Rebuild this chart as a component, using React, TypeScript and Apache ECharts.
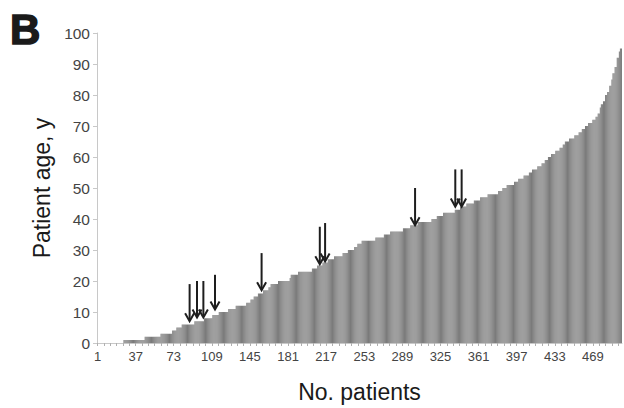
import React, { useEffect, useRef } from "react";
import * as echarts from "echarts";

// Sorted patient ages encoded as runs: runAges[k] repeated runCounts[k] times
const runAges = [
  0, 1, 2, 3, 4, 5, 6, 7, 8, 9, 10, 11, 12, 13, 14, 15, 16, 17, 18, 19, 20, 21, 22, 23,
  24, 25, 26, 27, 28, 29, 30, 31, 32, 33, 34, 35, 36, 37, 38, 39, 40, 41, 42, 43, 44, 45,
  46, 47, 48, 49, 50, 51, 52, 53, 54, 55, 56, 57, 58, 59, 60, 61, 62, 63, 64, 65, 66, 67,
  68, 69, 70, 71, 72, 73, 74, 76, 77, 78, 80, 81, 83, 85, 87, 89, 92, 94, 95,
];
const runCounts = [
  25, 20, 15, 11, 4, 5, 12, 9, 8, 6, 9, 7, 10, 4, 3, 4, 5, 5, 2, 7, 11, 1, 7, 13,
  5, 5, 5, 6, 8, 5, 6, 3, 4, 13, 8, 6, 12, 7, 7, 13, 5, 6, 11, 5, 6, 7,
  6, 7, 10, 4, 4, 7, 4, 5, 5, 3, 5, 4, 3, 3, 3, 4, 4, 3, 2, 4, 5, 4,
  3, 3, 3, 4, 3, 2, 2, 1, 2, 2, 2, 2, 2, 1, 2, 2, 2, 1, 2,
];

// Arrows: patient number (1-based) and age at the arrow tip / tail
const arrowPatients = [88, 95, 101, 112, 156, 211, 216, 301, 339, 345];
const arrowTips = [7, 8.2, 8.2, 10.8, 17, 25.4, 26.3, 38, 44, 44];
const arrowTails = [19, 20, 20, 22, 29, 37.5, 38.7, 50, 56, 56];

const FONT = "'Liberation Sans', Arial, sans-serif";

export default function App() {
  const ref = useRef<HTMLDivElement>(null);

  useEffect(() => {
    if (!ref.current) return;
    const chart = echarts.init(ref.current, undefined, { renderer: "svg" });

    const ages: number[] = [];
    runAges.forEach((a, k) => {
      for (let j = 0; j < runCounts[k]; j++) ages.push(a);
    });
    const categories = ages.map((_, i) => String(i + 1));
    const arrowData = arrowPatients.map((p, k) => [p - 1, arrowTips[k], arrowTails[k]]);

    chart.setOption({
      animation: false,
      backgroundColor: "#ffffff",
      title: {
        text: "B",
        left: 5,
        top: 3,
        textStyle: {
          fontFamily: FONT,
          fontSize: 42,
          fontWeight: 900,
          color: "#1a1a1a",
          textBorderColor: "#1a1a1a",
          textBorderWidth: 1.5,
        },
      },
      grid: { left: 97, right: 2, top: 33, bottom: 60, containLabel: false },
      xAxis: {
        type: "category",
        data: categories,
        name: "No. patients",
        nameLocation: "middle",
        nameGap: 37,
        nameTextStyle: { fontFamily: FONT, fontSize: 23, color: "#1a1a1a" },
        axisLine: { lineStyle: { color: "#c8c8c8", width: 1 } },
        axisTick: {
          show: true,
          interval: 5,
          alignWithLabel: true,
          length: 3,
          lineStyle: { color: "#b0b0b0" },
        },
        axisLabel: {
          interval: 35,
          fontFamily: FONT,
          fontSize: 13,
          color: "#444",
          margin: 7,
        },
        splitLine: { show: false },
      },
      yAxis: {
        type: "value",
        min: 0,
        max: 100,
        interval: 10,
        name: "Patient age, y",
        nameLocation: "middle",
        nameGap: 44,
        nameTextStyle: { fontFamily: FONT, fontSize: 23, color: "#1a1a1a" },
        axisLine: { show: true, lineStyle: { color: "#c8c8c8", width: 1 } },
        axisTick: { show: true, length: 4, lineStyle: { color: "#c8c8c8" } },
        axisLabel: { fontFamily: FONT, fontSize: 15.5, color: "#444", margin: 7 },
        splitLine: { show: false },
      },
      series: [
        {
          type: "bar",
          data: ages,
          barCategoryGap: "22%",
          itemStyle: { color: "#7a7a7a" },
          silent: true,
        },
        {
          type: "custom",
          data: arrowData,
          silent: true,
          z: 10,
          renderItem: (params: any, api: any) => {
            const tip = api.coord([api.value(0), api.value(1)]);
            const tail = api.coord([api.value(0), api.value(2)]);
            const x = tip[0];
            const style = { stroke: "#1e1e1e", lineWidth: 2, fill: "none" };
            return {
              type: "group",
              children: [
                {
                  type: "line",
                  shape: { x1: x, y1: tail[1], x2: x, y2: tip[1] - 1 },
                  style,
                },
                {
                  type: "polyline",
                  shape: {
                    points: [
                      [x - 4.5, tip[1] - 8],
                      [x, tip[1]],
                      [x + 4.5, tip[1] - 8],
                    ],
                  },
                  style,
                },
              ],
            };
          },
        },
      ],
    });

    return () => chart.dispose();
  }, []);

  return (
    <div
      ref={ref}
      style={{ position: "fixed", left: 0, top: 0, width: 624, height: 408 }}
    />
  );
}
